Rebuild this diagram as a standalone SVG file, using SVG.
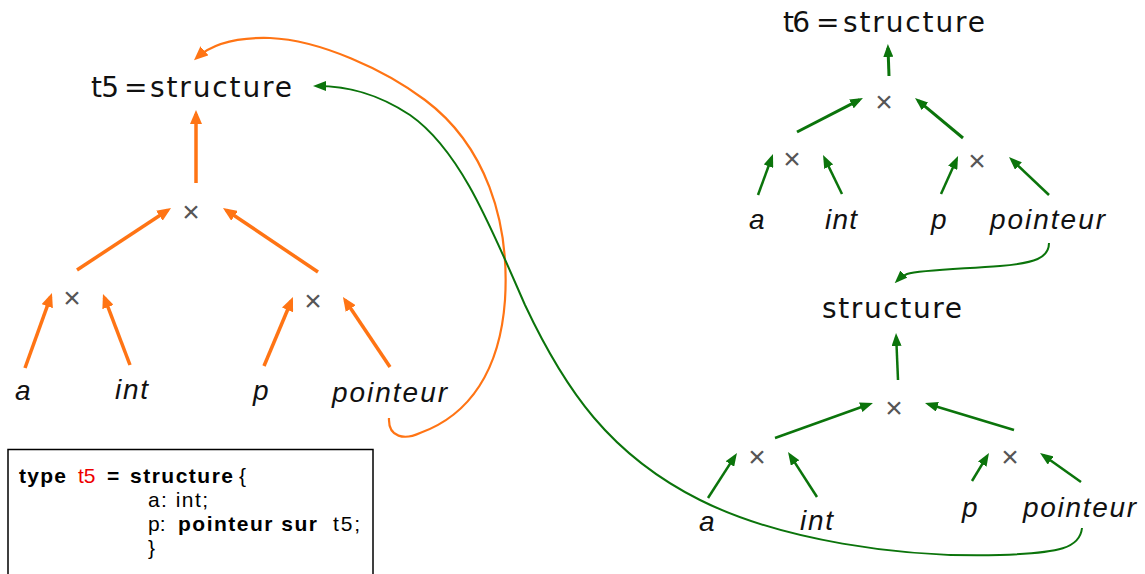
<svg xmlns="http://www.w3.org/2000/svg" width="1145" height="574" viewBox="0 0 1145 574">
<style>
.big{font-family:"DejaVu Sans",sans-serif;font-size:28px;fill:#111}
.lbl{font-family:"Liberation Sans",Arial,sans-serif;font-size:28px;font-style:italic;fill:#111}
.x{font-family:"Liberation Sans",Arial,sans-serif;font-size:30px;fill:#555;text-anchor:middle}
.code{font-family:"Liberation Sans",Arial,sans-serif;font-size:21px;fill:#000}
.b{font-weight:bold}
.o{stroke:#ff7414;stroke-width:3.5;fill:none;marker-end:url(#ho)}
.oc{stroke:#ff7414;stroke-width:2.2;fill:none;marker-end:url(#ho)}
.g{stroke:#0b740b;stroke-width:3;fill:none;marker-end:url(#hg)}
.g2{stroke:#0b740b;stroke-width:2.5;fill:none;marker-end:url(#hg)}
.gc{stroke:#0b740b;stroke-width:2;fill:none;marker-end:url(#hg)}
</style>
<defs>
<marker id="ho" markerUnits="userSpaceOnUse" markerWidth="14" markerHeight="12" refX="10" refY="6" orient="auto"><path d="M0,0 L14,6 L0,12 z" fill="#ff7414"/></marker>
<marker id="hg" markerUnits="userSpaceOnUse" markerWidth="13" markerHeight="10" refX="9" refY="5" orient="auto"><path d="M0,0 L13,5 L0,10 z" fill="#0b740b"/></marker>
</defs>
<rect width="1145" height="574" fill="#fff"/>

<g id="t5">
<text class="big" x="91" y="97" textLength="28" lengthAdjust="spacing">t5</text>
<text class="big" x="124" y="97">=</text>
<text class="big" x="150" y="97" textLength="142" lengthAdjust="spacing">structure</text>
</g>
<g id="t5-prod"><text class="x" x="191" y="222">×</text></g>
<g id="t5-prod-left"><text class="x" x="72" y="308">×</text></g>
<g id="t5-prod-right"><text class="x" x="313" y="311">×</text></g>
<g id="t5-a"><text class="lbl" x="15" y="400">a</text></g>
<g id="t5-int"><text class="lbl" x="115" y="399" textLength="33" lengthAdjust="spacing">int</text></g>
<g id="t5-p"><text class="lbl" x="253" y="400">p</text></g>
<g id="t5-pointeur"><text class="lbl" x="332" y="402" textLength="115" lengthAdjust="spacing">pointeur</text></g>

<g id="t6">
<text class="big" x="783" y="32" textLength="27" lengthAdjust="spacing">t6</text>
<text class="big" x="816" y="32">=</text>
<text class="big" x="843" y="32" textLength="142" lengthAdjust="spacing">structure</text>
</g>
<g id="t6-prod"><text class="x" x="884" y="112">×</text></g>
<g id="t6-prod-left"><text class="x" x="792" y="169">×</text></g>
<g id="t6-prod-right"><text class="x" x="977" y="171">×</text></g>
<g id="t6-a"><text class="lbl" x="749" y="229">a</text></g>
<g id="t6-int"><text class="lbl" x="825" y="229" textLength="32" lengthAdjust="spacing">int</text></g>
<g id="t6-p"><text class="lbl" x="931" y="229">p</text></g>
<g id="t6-pointeur"><text class="lbl" x="990" y="229" textLength="115" lengthAdjust="spacing">pointeur</text></g>

<g id="s">
<text class="big" x="822" y="318" textLength="140" lengthAdjust="spacing">structure</text>
</g>
<g id="s-prod"><text class="x" x="894" y="418">×</text></g>
<g id="s-prod-left"><text class="x" x="757" y="467">×</text></g>
<g id="s-prod-right"><text class="x" x="1010" y="467">×</text></g>
<g id="s-a"><text class="lbl" x="699" y="531">a</text></g>
<g id="s-int"><text class="lbl" x="800" y="530" textLength="33" lengthAdjust="spacing">int</text></g>
<g id="s-p"><text class="lbl" x="962" y="517">p</text></g>
<g id="s-pointeur"><text class="lbl" x="1023" y="517" textLength="113" lengthAdjust="spacing">pointeur</text></g>

<g id="code">
<rect x="8" y="449.5" width="365" height="135" fill="#fff" stroke="#000" stroke-width="1.5"/>
<text class="code b" x="19" y="483" textLength="47" lengthAdjust="spacing">type</text>
<text class="code" x="78" y="483" style="fill:#e00">t5</text>
<text class="code b" x="107" y="483">=</text>
<text class="code b" x="130" y="483" textLength="103" lengthAdjust="spacing">structure</text>
<text class="code" x="239" y="483">{</text>
<text class="code" x="148" y="507" textLength="60" lengthAdjust="spacing">a: int;</text>
<text class="code" x="148" y="531">p:</text>
<text class="code b" x="178" y="531" textLength="139" lengthAdjust="spacing">pointeur sur</text>
<text class="code" x="333" y="531" textLength="27" lengthAdjust="spacing">t5;</text>
<text class="code" x="148" y="555">}</text>
</g>

<g id="connectors">
<path class="o" d="M196,183 L196,114"/>
<path class="o" d="M77,270 L167.7,210.2"/>
<path class="o" d="M318,272 L226.3,210.2"/>
<path class="o" d="M25,368 L50.6,296.8"/>
<path class="o" d="M130,365 L104.4,297.7"/>
<path class="o" d="M264,366 L291.4,300.7"/>
<path class="o" d="M390,367 L345.2,300.3"/>
<path class="oc" d="M389,418 C388,438 405,440 420,433 C470,415 500,370 505,300 C510,220 485,145 425,100 C385,70 320,40 270,38 C235,37 212,44 197,57.5"/>

<path class="g" d="M889,76 L888,48"/>
<path class="g" d="M797,132 L859.4,99.8"/>
<path class="g" d="M963,138 L918.1,100.6"/>
<path class="g2" d="M758,195 L771.6,157.8"/>
<path class="g2" d="M842,194 L824.8,158.6"/>
<path class="g2" d="M941,194 L956.4,159.7"/>
<path class="g2" d="M1049,195 L1011.9,159.8"/>
<path class="gc" d="M1049,243 C1049,258 1035,263 1000,266 C960,269 920,270 907,274 C902,276 900,278 897.5,280.5"/>

<path class="g2" d="M898,380 L896.2,337"/>
<path class="g2" d="M775,438 L869.2,404.3"/>
<path class="g2" d="M1014,430 L928.8,404.2"/>
<path class="g2" d="M708,498 L734.8,456.4"/>
<path class="g2" d="M817,497 L790.2,455.4"/>
<path class="g2" d="M972,481 L986.9,456.4"/>
<path class="g2" d="M1081,482 L1043.3,455.3"/>
<path class="gc" d="M1082,528 C1080,548 1060,553 1000,555 C900,558 780,540 700,500 C610,455 565,390 525,305 C490,225 460,150 410,115 C375,92 345,86 317,86"/>
</g>
</svg>
